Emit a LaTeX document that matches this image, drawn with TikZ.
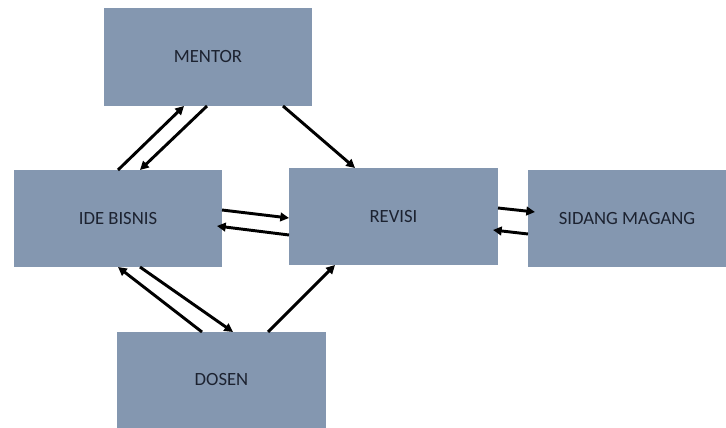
\documentclass[tikz,border=0pt]{standalone}
\usepackage{fontspec}
\setmainfont{Carlito}
\usetikzlibrary{calc, arrows.meta}
\definecolor{boxblue}{HTML}{8497B0}
\definecolor{boxtext}{HTML}{1C2230}
\tikzset{
  box/.style={fill=boxblue, inner sep=0pt, outer sep=0pt, minimum height=97*0.75pt, font=\fontsize{14}{16}\selectfont, text=boxtext},
  link/.style={line width=2.2pt, -{Triangle[length=6.5pt, width=6.5pt]}},
}

\begin{document}
\begin{tikzpicture}[x=0.75pt, y=-0.75pt]
    \useasboundingbox (0,0) rectangle (726,428);
    \node[box, minimum width=208*0.75pt, minimum height=98*0.75pt] (mentor) at (208,57) {MENTOR};
    \node[box, minimum width=208*0.75pt] (ide) at (118,218.5) {IDE BISNIS};
    \node[box, minimum width=209*0.75pt] (revisi) at (393.5,216.5) {REVISI};
    \node[box, minimum width=198*0.75pt] (sidang) at (627,218.5) {SIDANG MAGANG};
    \node[box, minimum width=209*0.75pt, minimum height=96*0.75pt] (dosen) at (221.5,380) {DOSEN};
    % mentor
    \draw[link] ($(ide.north west)+(104,0)$) -- ($(mentor.south west)+(80,0)$);
    \draw[link] ($(mentor.south west)+(103,0)$) -- ($(ide.north west)+(126,0)$);
    \draw[link] ($(mentor.south west)+(179,0)$) -- ($(revisi.north west)+(66,0)$);
    % revisi
    \draw[link] ($(ide.north east)+(0,40)$) -- ($(revisi.north west)+(0,50)$);
    \draw[link] ($(revisi.north west)+(0,67)$) -- ($(ide.north east)+(-5,56)$);
    \draw[link] ($(revisi.north east)+(0,40)$) -- ($(sidang.north west)+(7,42)$);
    \draw[link] ($(sidang.north west)+(0,64)$) -- ($(revisi.north east)+(-5,62)$);
    % dosen
    \draw[link] ($(ide.south west)+(126,0)$) -- ($(dosen.north west)+(116,0)$);
    \draw[link] ($(dosen.north west)+(85,0)$) -- ($(ide.south west)+(104,0)$);
    \draw[link] ($(dosen.north west)+(151,0)$) -- ($(revisi.south west)+(46,0)$);
  \end{tikzpicture}
\end{document}
